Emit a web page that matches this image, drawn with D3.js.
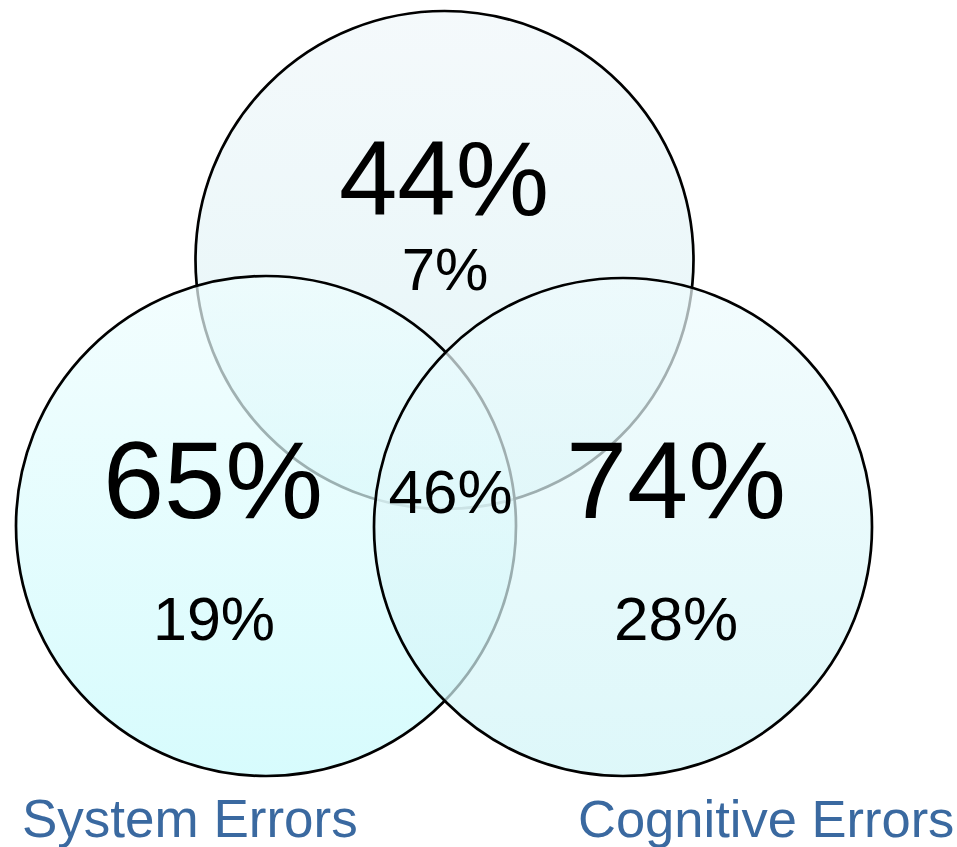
<!DOCTYPE html>
<html>
<head>
<meta charset="utf-8">
<script src="https://cdn.jsdelivr.net/npm/d3@7"></script>
<style>
  html, body { margin: 0; padding: 0; background: #fff; }
  svg { display: block; }
</style>
</head>
<body>
<svg id="chart" width="957" height="847"></svg>
<script>
// ---- data ----
const setNames   = ["Top", "System Errors", "Cognitive Errors"];
const setValues  = [44, 65, 74];          // whole-circle percentages
const onlyValues = [7, 19, 28];           // exclusive-region percentages
const centerValue = 46;                   // triple-overlap percentage
const setLabels  = ["", "System Errors", "Cognitive Errors"];

// ---- layout (geometry, not data) ----
const layout = [
  { cx: 444.5, cy: 260, r: 249, bigX: 444, bigY: 215, bigSize: 105, smX: 445, smY: 290, smSize: 60 },
  { cx: 266,   cy: 526, r: 250, bigX: 213, bigY: 518, bigSize: 110, smX: 214, smY: 640, smSize: 61, labX: 22,  labY: 837, labSize: 53 },
  { cx: 623,   cy: 527, r: 249, bigX: 676, bigY: 518, bigSize: 110, smX: 676, smY: 640, smSize: 62, labX: 578, labY: 837, labSize: 52.5 }
];
const centerPos = { x: 450.5, y: 513, size: 62 };

const fmt = d => d + "%";
const font = "'Liberation Sans', Arial, Helvetica, sans-serif";

const svg = d3.select("#chart");
const defs = svg.append("defs");
const gradColors = [
  ["#f0f7fa", "#d8f1f4"],
  ["#eefdfe", "#c6fafc"],
  ["#eefbfd", "#cff4f7"]
];
gradColors.forEach((c, i) => {
  const g = defs.append("linearGradient")
    .attr("id", "g" + i).attr("x1", 0).attr("y1", 0).attr("x2", 0).attr("y2", 1);
  g.append("stop").attr("offset", "0%").attr("stop-color", c[0]);
  g.append("stop").attr("offset", "100%").attr("stop-color", c[1]);
});

const data = setNames.map((n, i) => Object.assign({ name: n, value: setValues[i], only: onlyValues[i], label: setLabels[i] }, layout[i]));

svg.selectAll("circle.set")
  .data(data)
  .join("circle")
  .attr("class", "set")
  .attr("cx", d => d.cx).attr("cy", d => d.cy).attr("r", d => d.r)
  .attr("fill", (d, i) => `url(#g${i})`)
  .attr("fill-opacity", 0.7)
  .attr("stroke", "#000")
  .attr("stroke-width", 2.7);

const txt = svg.append("g").attr("font-family", font).attr("fill", "#000").attr("text-anchor", "middle");

txt.selectAll("text.big").data(data).join("text")
  .attr("class", "big")
  .attr("x", d => d.bigX).attr("y", d => d.bigY)
  .attr("font-size", d => d.bigSize)
  .text(d => fmt(d.value));

txt.selectAll("text.small").data(data).join("text")
  .attr("class", "small")
  .attr("x", d => d.smX).attr("y", d => d.smY)
  .attr("font-size", d => d.smSize)
  .text(d => fmt(d.only));

txt.append("text")
  .attr("x", centerPos.x).attr("y", centerPos.y)
  .attr("font-size", centerPos.size)
  .text(fmt(centerValue));

svg.append("g").attr("font-family", font).attr("fill", "#3a69a0")
  .selectAll("text").data(data.filter(d => d.label)).join("text")
  .attr("x", d => d.labX).attr("y", d => d.labY)
  .attr("font-size", d => d.labSize)
  .text(d => d.label);
</script>
</body>
</html>
